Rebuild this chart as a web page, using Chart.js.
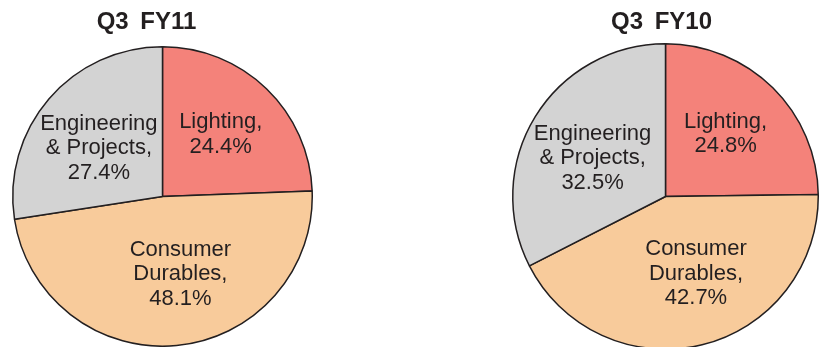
<!DOCTYPE html>
<html>
<head>
<meta charset="utf-8">
<script src="https://cdn.jsdelivr.net/npm/chart.js@4.4.0/dist/chart.umd.min.js"></script>
<style>
  html, body { margin: 0; padding: 0; background: #ffffff; width: 819px; height: 347px; overflow: hidden; }
  .box { position: absolute; top: 0; }
  #left { left: 0; width: 330px; height: 347px; }
  #right { left: 505px; width: 321px; height: 350px; }
</style>
</head>
<body>
<div class="box" id="left"><canvas id="c1"></canvas></div>
<div class="box" id="right"><canvas id="c2"></canvas></div>
<script>
const categories = ["Lighting", "Consumer Durables", "Engineering & Projects"];
const labelLines = [["Lighting,"], ["Consumer", "Durables,"], ["Engineering", "& Projects,"]];
const titleFY11 = "Q3 FY11";
const titleFY10 = "Q3 FY10";
const valuesFY11 = [24.4, 48.1, 27.4];
const valuesFY10 = [24.8, 42.7, 32.5];
const sliceColors = ["#F4827A", "#F8CB9B", "#D3D3D3"];

const textColor = "#231F20";

const pieLabels = {
  id: "pieLabels",
  afterDatasetsDraw(chart, args, opts) {
    const ctx = chart.ctx;
    const meta = chart.getDatasetMeta(0);
    const data = chart.data.datasets[0].data;
    ctx.save();
    ctx.fillStyle = textColor;
    ctx.font = "22px 'Liberation Sans', Arial, sans-serif";
    ctx.textAlign = "center";
    ctx.textBaseline = "middle";
    meta.data.forEach((arc, i) => {
      const p = arc.getProps(["x", "y", "startAngle", "endAngle", "outerRadius"], true);
      const mid = (p.startAngle + p.endAngle) / 2;
      const r = p.outerRadius * opts.factor;
      const nudge = opts.nudge[i];
      const cx = p.x + Math.cos(mid) * r + nudge[0];
      const cy = p.y + Math.sin(mid) * r + nudge[1];
      const lines = labelLines[i].concat([data[i].toFixed(1) + "%"]);
      const lh = 24.5;
      const y0 = cy - (lines.length - 1) * lh / 2;
      lines.forEach((t, k) => ctx.fillText(t, cx, y0 + k * lh));
    });
    ctx.restore();
  }
};

const chartTitle = {
  id: "chartTitle",
  afterDraw(chart, args, opts) {
    const ctx = chart.ctx;
    ctx.save();
    ctx.fillStyle = textColor;
    ctx.font = "bold 24px 'Liberation Sans', Arial, sans-serif";
    ctx.textAlign = "center";
    ctx.textBaseline = "middle";
    try { ctx.wordSpacing = "5px"; } catch (e) {}
    const cx = (chart.chartArea.left + chart.chartArea.right) / 2 + opts.dx;
    ctx.fillText(opts.text, cx, opts.y);
    ctx.restore();
  }
};

function makePie(id, values, title, padding, titleDx) {
  return new Chart(document.getElementById(id), {
    type: "pie",
    data: {
      labels: categories,
      datasets: [{
        data: values,
        backgroundColor: sliceColors,
        borderColor: "#231F20",
        borderWidth: 1.5,
        borderAlign: "center"
      }]
    },
    options: {
      responsive: true,
      maintainAspectRatio: false,
      animation: false,
      layout: { padding: padding },
      plugins: {
        legend: { display: false },
        tooltip: { enabled: false },
        title: { display: false },
        pieLabels: { factor: 0.56, nudge: [[0, -1.5], [10, -6], [0, 6.5]] },
        chartTitle: { text: title, y: 22, dx: titleDx }
      }
    },
    plugins: [pieLabels, chartTitle]
  });
}

makePie("c1", valuesFY11, titleFY11, { top: 46, bottom: 0, left: 0, right: 5 }, -16);
makePie("c2", valuesFY10, titleFY10, { top: 43, bottom: 0, left: 0, right: 0 }, -4);
</script>
</body>
</html>
